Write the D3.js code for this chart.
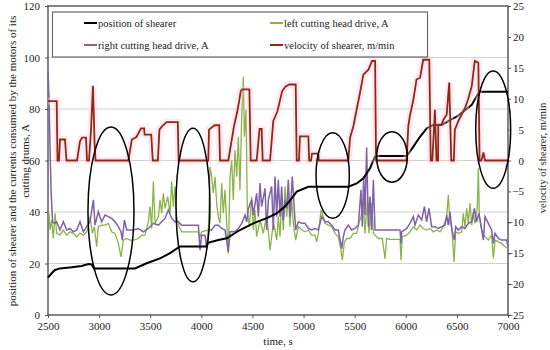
<!DOCTYPE html>
<html>
<head>
<meta charset="utf-8">
<script src="https://cdn.jsdelivr.net/npm/d3@7"></script>
<style>
  body { margin: 0; background: #fff; }
  svg text { font-family: "Liberation Serif", "Times New Roman", serif; fill: #222; }
</style>
</head>
<body>
<div id="chart"></div>
<script>
'use strict';

// time [s] vs value pairs
var shearerPosition = [
    [2500, 14.5], [2536, 16.2], [2568, 17.5], [2617, 18.1], [2732, 18.5], [2830, 19.0],
    [2894, 19.8], [2927, 19.6], [2950, 18.1], [3351, 18.1], [3466, 20.1], [3596, 22.0],
    [3694, 24.0], [3791, 26.6], [4050, 26.6], [4065, 28.0], [4166, 29.1], [4248, 29.8],
    [4378, 33.0], [4508, 35.6], [4640, 37.6], [4737, 39.5], [4818, 42.1], [4884, 45.3],
    [4933, 47.9], [5047, 49.8], [5438, 49.8], [5520, 51.1], [5585, 53.1], [5650, 57.0],
    [5699, 61.5], [5731, 61.7], [6009, 61.7], [6074, 65.4], [6139, 69.2], [6205, 72.5],
    [6269, 73.8], [6351, 73.8], [6433, 75.7], [6498, 77.0], [6563, 79.0], [6645, 81.6],
    [6710, 86.1], [6726, 86.7], [7000, 86.7]
];

var leftDrive = [
    [2500, 40], [2510, 39.5], [2520, 33], [2536, 36.9], [2552, 29.7], [2569, 39.5], [2585, 31.7],
    [2617, 31], [2650, 33], [2683, 31], [2715, 32.3], [2748, 31.7], [2781, 30.4], [2813, 31.7],
    [2846, 31], [2878, 32.3], [2895, 34.3], [2911, 38.2], [2934, 31.7], [2953, 34.3], [2976, 26.5],
    [2992, 34.3], [3025, 34.9], [3058, 34.9], [3090, 35.6], [3123, 32.3], [3155, 31.7], [3188, 27.8],
    [3214, 22.6], [3237, 29.1], [3270, 29.7], [3302, 29.1], [3335, 29.1], [3384, 29.7], [3416, 31],
    [3449, 31], [3482, 36.2], [3498, 42.1], [3514, 33.6], [3531, 51.8], [3547, 35.6], [3580, 38.2],
    [3596, 44.7], [3612, 39.5], [3628, 47.3], [3645, 41.4], [3671, 46], [3694, 39.5], [3710, 51.8],
    [3726, 42.1], [3742, 49.9], [3759, 38.2], [3782, 34.3], [3808, 32.3], [3873, 32.3], [3971, 32.3],
    [3987, 30.4], [4003, 32.3], [4069, 33], [4085, 57.6], [4101, 53.7], [4117, 47.4], [4134, 53.7],
    [4150, 43.5], [4166, 38.2], [4183, 35.7], [4199, 51.2], [4215, 39.5], [4232, 48.6], [4248, 35.6],
    [4264, 23.9], [4281, 53.7], [4297, 60.2], [4313, 44.7], [4329, 64.1], [4346, 53.7], [4362, 69.2],
    [4378, 48.5], [4395, 77], [4411, 92.5], [4421, 69.2], [4437, 79.6], [4450, 40.8], [4470, 34.3],
    [4492, 45.9], [4509, 33], [4525, 40.8], [4541, 30.4], [4574, 36.9], [4607, 31.7], [4639, 39.5],
    [4672, 25.2], [4704, 35.6], [4721, 33], [4737, 29.1], [4753, 38.2], [4770, 30.4], [4786, 44.7],
    [4802, 33], [4819, 49.9], [4835, 38.2], [4851, 48.6], [4867, 34.3], [4884, 44.7], [4900, 35.6],
    [4923, 29.1], [4949, 34.3], [4982, 33], [5014, 32.3], [5047, 33], [5079, 31], [5112, 31],
    [5128, 28.4], [5145, 31.7], [5171, 40.8], [5194, 38.2], [5210, 35.6], [5242, 34.9], [5275, 34.3],
    [5308, 31.7], [5340, 30.4], [5366, 25.2], [5379, 21.3], [5399, 28.4], [5422, 29.7], [5454, 29.7],
    [5487, 31.7], [5520, 31.7], [5542, 35.6], [5562, 38.2], [5585, 44.7], [5601, 31.7], [5627, 46],
    [5640, 31.7], [5666, 43.4], [5683, 31.7], [5699, 31], [5732, 29.7], [5770, 29.7], [5797, 21.9],
    [5813, 29.7], [5846, 29.4], [5944, 29.4], [5953, 21.3], [5966, 30.4], [6009, 31], [6041, 32.3],
    [6074, 34.3], [6107, 33], [6139, 34.9], [6172, 33.6], [6204, 33], [6237, 33.6], [6270, 32.3],
    [6302, 33], [6335, 32.3], [6367, 34.3], [6400, 38.2], [6416, 46.6], [6433, 35.6], [6449, 34.3],
    [6472, 20.6], [6488, 32.3], [6514, 31.7], [6547, 32.3], [6563, 39.5], [6579, 34.3], [6596, 41.4],
    [6612, 35.6], [6628, 43.4], [6645, 34.9], [6661, 39.5], [6677, 35.6], [6700, 42.1], [6710, 57],
    [6720, 38.2], [6743, 33], [6775, 30.4], [6808, 29.1], [6840, 31], [6857, 22], [6873, 29.1],
    [6906, 28.4], [6938, 27.8], [6971, 26.5], [7000, 25.8]
];

var rightDrive = [
    [2500, 95], [2510, 84], [2520, 65], [2530, 48], [2545, 36], [2569, 35.6], [2585, 36.2],
    [2617, 33], [2650, 36.2], [2683, 33], [2715, 33.6], [2748, 32.3], [2781, 33], [2813, 36.2],
    [2846, 32.3], [2878, 34.3], [2911, 36.2], [2944, 44.7], [2960, 34.9], [2992, 40.1], [3025, 36.2],
    [3058, 38.8], [3090, 38.2], [3123, 37.5], [3155, 36.2], [3188, 34.3], [3214, 32.3], [3227, 29.1],
    [3247, 36.9], [3270, 33], [3335, 33], [3384, 33.6], [3433, 32.3], [3482, 33.6], [3531, 35.6],
    [3580, 34.9], [3612, 36.2], [3645, 37.5], [3677, 40.8], [3710, 37.5], [3742, 36.2], [3775, 36.2],
    [3808, 34.9], [3971, 34.9], [3987, 25.2], [4003, 31], [4036, 31], [4052, 25.8], [4069, 33],
    [4101, 33], [4134, 34.9], [4166, 34.9], [4199, 33.6], [4232, 33], [4264, 24.5], [4281, 32.3],
    [4330, 32.3], [4362, 33.6], [4395, 35.6], [4427, 38.8], [4444, 36.2], [4460, 41.4], [4493, 44.7],
    [4509, 38.8], [4541, 47.3], [4558, 38.2], [4574, 51.2], [4590, 42.1], [4623, 49.2], [4639, 33],
    [4656, 44.7], [4688, 49.9], [4704, 33], [4721, 53.8], [4737, 38.2], [4753, 52.5], [4770, 38.2],
    [4786, 49.9], [4802, 36.9], [4819, 44.7], [4835, 41.4], [4851, 52.5], [4867, 38.2], [4890, 53.8],
    [4910, 40.8], [4923, 33], [4949, 36.2], [4982, 35.6], [5014, 35.6], [5047, 33.6], [5079, 33],
    [5112, 33.6], [5145, 33], [5177, 38.2], [5210, 36.2], [5242, 36.2], [5275, 34.9], [5308, 33],
    [5340, 33], [5373, 25.8], [5389, 30.4], [5405, 33], [5438, 34.9], [5471, 33], [5503, 33.6],
    [5536, 34.9], [5562, 48.6], [5575, 34.3], [5588, 53.8], [5601, 38.8], [5617, 65], [5634, 34.3],
    [5650, 46], [5666, 33], [5683, 52.5], [5699, 33], [5732, 33], [5797, 33], [5944, 33],
    [5953, 27.8], [5960, 32.3], [6009, 33.6], [6041, 35.6], [6074, 38.2], [6090, 34.9], [6123, 38.8],
    [6156, 36.9], [6182, 42.1], [6204, 36.2], [6227, 41.4], [6253, 34.3], [6286, 34.3], [6319, 33.6],
    [6351, 34.3], [6384, 34.9], [6400, 38.8], [6416, 34.9], [6433, 40.1], [6449, 33.6], [6475, 29.1],
    [6488, 34.3], [6514, 33], [6547, 34.3], [6579, 33.6], [6612, 35.6], [6645, 36.2], [6671, 41.4],
    [6693, 36.2], [6716, 39.5], [6743, 33], [6759, 29.1], [6775, 38.2], [6808, 35.6], [6840, 33],
    [6857, 27.8], [6873, 31.7], [6906, 29.7], [6938, 29.1], [6987, 29.1], [7000, 26.5]
];

// velocity, right axis [m/min]
var shearerVelocity = [
    [2500, 9.6], [2585, 9.6], [2593, 0], [2608, 0], [2617, 3.4], [2666, 3.4], [2681, 0], [2784, 0],
    [2813, 3.1], [2833, 3.7], [2872, 3.7], [2882, 0], [2901, 0], [2921, 5], [2940, 12.1], [2955, 3],
    [2965, 0], [3286, 0], [3320, 3.4], [3365, 3.8], [3410, 5.2], [3440, 5.2], [3445, 4.2], [3510, 4.2],
    [3525, 0], [3575, 0], [3590, 5.0], [3620, 5.6], [3660, 6.2], [3770, 6.2], [3778, 0], [4068, 0],
    [4075, 5.0], [4130, 5.7], [4175, 5.7], [4183, 0], [4264, 0], [4290, 2.6], [4320, 5.6], [4350, 7.8],
    [4370, 9.6], [4385, 11.2], [4400, 11.5], [4470, 11.5], [4483, 0], [4541, 0], [4570, 5.1], [4590, 5.1],
    [4600, 0], [4672, 0], [4704, 6.4], [4730, 7.4], [4745, 8.0], [4790, 11.2], [4825, 12.0], [4860, 12.3],
    [4923, 12.3], [4933, 0], [4955, 0], [4965, 3.9], [5047, 3.9], [5055, 0], [5073, 0], [5082, 1.1],
    [5144, 1.1], [5150, 0], [5438, 0], [5455, 3.7], [5488, 5.6], [5520, 8.3], [5553, 11.0], [5585, 13.9],
    [5635, 14.7], [5670, 16.1], [5700, 16.1], [5709, 0], [6008, 0], [6025, 5.6], [6040, 7.2], [6075, 9.9],
    [6105, 13.1], [6140, 13.4], [6170, 16.3], [6230, 16.3], [6244, 0], [6260, 0], [6285, 8.2], [6300, 0],
    [6316, 0], [6318, 5.8], [6350, 5.8], [6368, 6.6], [6400, 7.4], [6425, 12.6], [6445, 0], [6470, 0],
    [6480, 5.0], [6515, 6.4], [6545, 7.4], [6580, 8.5], [6610, 9.9], [6645, 12.0], [6675, 16.1],
    [6710, 15.8], [6722, 0], [6740, 0], [6760, 1.3], [6775, 0], [7000, 0]
];

// marked stops: centre time, centre value (left axis), half width [s], half height
var ellipses = [
    [3116, 40.4, 225, 32.6],
    [3918, 42.7, 166, 29.8],
    [5285, 54.2, 163, 16.6],
    [5865, 61.4, 150, 9.8],
    [6855, 72.0, 171, 22.8]
];

var timeTicks = [2500, 3000, 3500, 4000, 4500, 5000, 5500, 6000, 6500, 7000];
var leftTicks = [0, 20, 40, 60, 80, 100, 120];
var rightTicks = [-25, -20, -15, -10, -5, 0, 5, 10, 15, 20, 25];

var seriesNames = ['position of shearer', 'left cutting head drive, A',
    'right cutting head drive, A', 'velocity of shearer, m/min'];
var seriesColors = ['#000000', '#8cb24a', '#7f62a8', '#922812'];

var width = 550,
    height = 350;
var margin = {left: 48, right: 42, top: 6, bottom: 35};
var serif = '"Liberation Serif", "Times New Roman", serif';

var svg = d3.select('#chart').append('svg')
    .attr('width', width)
    .attr('height', height)
    .attr('font-family', serif);

var x = d3.scaleLinear().domain([2500, 7000]).range([margin.left, width - margin.right]);
var yL = d3.scaleLinear().domain([0, 120]).range([height - margin.bottom, margin.top]);
var yR = d3.scaleLinear().domain([-25, 25]).range([height - margin.bottom, margin.top]);

// gridlines
svg.append('g').selectAll('line')
    .data(leftTicks.slice(1, -1))
    .enter().append('line')
    .attr('x1', x(2500)).attr('x2', x(7000))
    .attr('y1', function(d) { return yL(d); })
    .attr('y2', function(d) { return yL(d); })
    .attr('stroke', '#d2d2d2')
    .attr('stroke-width', 1);

// axes
var fmt = d3.format('d');
var axisB = svg.append('g')
    .attr('transform', 'translate(0,' + yL(0) + ')')
    .call(d3.axisBottom(x).tickValues(timeTicks).tickFormat(fmt).tickSize(3).tickPadding(4));
var axisL = svg.append('g')
    .attr('transform', 'translate(' + x(2500) + ',0)')
    .call(d3.axisLeft(yL).tickValues(leftTicks).tickFormat(fmt).tickSize(3).tickPadding(5));
var axisR = svg.append('g')
    .attr('transform', 'translate(' + x(7000) + ',0)')
    .call(d3.axisRight(yR).tickValues(rightTicks).tickFormat(fmt).tickSize(3).tickPadding(4));

[axisB, axisL, axisR].forEach(function(a) {
    a.attr('font-family', serif);
    a.select('.domain').remove();
    a.selectAll('line').attr('stroke', '#555');
    a.selectAll('text').attr('font-size', 11).attr('fill', '#222');
});
axisR.selectAll('text').attr('text-anchor', 'end').attr('x', 16);

// plot frame
svg.append('rect')
    .attr('x', x(2500)).attr('y', yL(120))
    .attr('width', x(7000) - x(2500))
    .attr('height', yL(0) - yL(120))
    .attr('fill', 'none')
    .attr('stroke', '#444')
    .attr('stroke-width', 1.3);

var lineL = d3.line()
    .x(function(d) { return x(d[0]); })
    .y(function(d) { return yL(d[1]); });
var lineR = d3.line()
    .x(function(d) { return x(d[0]); })
    .y(function(d) { return yR(d[1]); });

svg.append('path').datum(leftDrive)
    .attr('d', lineL).attr('fill', 'none')
    .attr('stroke', seriesColors[1]).attr('stroke-width', 1.3);
svg.append('path').datum(rightDrive)
    .attr('d', lineL).attr('fill', 'none')
    .attr('stroke', seriesColors[2]).attr('stroke-width', 1.5);
svg.append('path').datum(shearerPosition)
    .attr('d', lineL).attr('fill', 'none')
    .attr('stroke', seriesColors[0]).attr('stroke-width', 2);

// velocity with its faint pink halo
svg.append('path').datum(shearerVelocity)
    .attr('d', lineR).attr('fill', 'none')
    .attr('stroke', '#ffc8e6').attr('stroke-width', 7).attr('stroke-opacity', 0.4);
svg.append('path').datum(shearerVelocity)
    .attr('d', lineR).attr('fill', 'none')
    .attr('stroke', seriesColors[3]).attr('stroke-width', 1.8);

// ellipses marking the stops
svg.append('g').selectAll('ellipse')
    .data(ellipses)
    .enter().append('ellipse')
    .attr('cx', function(d) { return x(d[0]); })
    .attr('cy', function(d) { return yL(d[1]); })
    .attr('rx', function(d) { return x(d[0] + d[2]) - x(d[0]); })
    .attr('ry', function(d) { return yL(d[1] - d[3]) - yL(d[1]); })
    .attr('fill', 'none')
    .attr('stroke', '#000')
    .attr('stroke-width', 1.5);

// legend
var legend = svg.append('g');
legend.append('rect')
    .attr('x', 52.5).attr('y', 12)
    .attr('width', 375).attr('height', 45)
    .attr('fill', '#fff')
    .attr('stroke', '#6a6a6a')
    .attr('stroke-width', 1.2);

var items = legend.selectAll('g.item')
    .data(seriesNames)
    .enter().append('g')
    .attr('transform', function(d, i) {
        return 'translate(' + (i % 2 ? 270 : 84) + ',' + (i < 2 ? 23 : 45) + ')';
    });
items.append('line')
    .attr('x1', 0).attr('x2', 13)
    .attr('stroke', function(d, i) { return seriesColors[i]; })
    .attr('stroke-width', 2);
items.append('text')
    .attr('x', 14).attr('dy', '0.35em')
    .attr('font-size', 10.5)
    .text(function(d) { return d; });

// axis titles
svg.append('text')
    .attr('x', x(4750)).attr('y', 345)
    .attr('text-anchor', 'middle')
    .attr('font-size', 11)
    .text('time, s');

var leftTitle = svg.append('text')
    .attr('transform', 'translate(16,161) rotate(-90)')
    .attr('text-anchor', 'middle')
    .attr('font-size', 11);
leftTitle.append('tspan').attr('x', 0).attr('y', 0)
    .text('position of shearer and the currents consumed by the motors of its');
leftTitle.append('tspan').attr('x', 0).attr('y', 12.5)
    .text('cutting drums, A');

svg.append('text')
    .attr('transform', 'translate(546,158) rotate(-90)')
    .attr('text-anchor', 'middle')
    .attr('font-size', 10.5)
    .text('velocity of shearer, m/min');
</script>
</body>
</html>
